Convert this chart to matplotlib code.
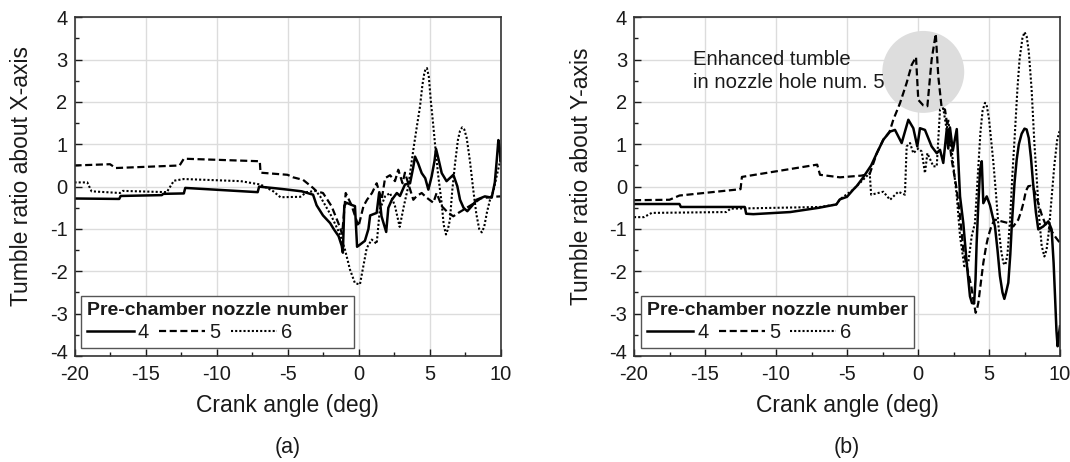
import matplotlib
matplotlib.use('Agg')
import matplotlib.pyplot as plt
from matplotlib.ticker import MultipleLocator
from matplotlib.transforms import ScaledTranslation

plt.rcParams['font.family'] = ['Liberation Sans', 'DejaVu Sans']
plt.rcParams['axes.unicode_minus'] = False
plt.rcParams['text.color'] = '#1a1a1a'
plt.rcParams['axes.labelcolor'] = '#1a1a1a'
plt.rcParams['xtick.color'] = '#1a1a1a'
plt.rcParams['ytick.color'] = '#1a1a1a'

nozzles = ['4', '5', '6']

# (a) tumble ratio about X-axis
ax4 = [-20, -16.85, -16.75, -13.85, -13.75, -12.3, -12.2, -7.1, -7.0, -5.8, -5.0, -4.0, -3.2, -2.95,
       -2.5, -2.0, -1.75, -1.4, -1.18, -1.1, -1.0, -0.85, -0.5, -0.25, -0.1, 0.1, 0.45, 0.7, 0.82,
       1.28, 1.45, 1.62, 1.95, 2.1, 2.35, 2.7, 2.92, 3.27, 3.63, 3.85, 3.98, 4.2, 4.45, 4.7, 4.92, 5.15,
       5.35, 5.46, 5.6, 5.86, 6.2, 6.68, 6.96, 7.15, 7.4, 7.66, 8.0, 8.32, 8.9, 9.38, 9.6, 9.73, 9.85,
       9.95, 10.0]
ay4 = [-0.28, -0.29, -0.22, -0.20, -0.17, -0.16, -0.03, -0.13, 0.0, -0.04, -0.07, -0.11, -0.19, -0.44,
       -0.68, -0.86, -1.0, -1.17, -1.4, -1.56, -0.45, -0.38, -0.43, -0.46, -1.42, -1.37, -1.28, -1.0, -0.68,
       -0.62, -0.15, -0.70, -1.07, -0.50, -0.31, -0.15, -0.22, 0.05, 0.08, 0.45, 0.71, 0.55, 0.32, 0.2, -0.07,
       0.24, 0.6, 0.89, 0.7, 0.32, 0.13, 0.28, 0.01, -0.31, -0.5, -0.58, -0.45, -0.31, -0.23, -0.26, 0.1,
       0.6, 1.1, 0.9, 0.6]

ax5 = [-20, -17.5, -17.1, -12.6, -12.3, -6.95, -6.9, -5.0, -4.6, -3.9, -3.2, -2.95, -2.5, -1.9, -1.42,
       -1.15, -0.9, -0.5, 0.0, 0.35, 0.6, 0.95, 1.28, 1.63, 1.87, 2.22, 2.57, 2.8, 3.1, 3.27, 3.5, 3.86,
       4.1, 4.45, 4.8, 5.27, 5.5, 5.86, 6.32, 6.68, 7.03, 7.62, 8.1, 8.6, 9.4, 10.0]
ay5 = [0.50, 0.53, 0.44, 0.50, 0.66, 0.60, 0.33, 0.28, 0.22, 0.16, -0.03, -0.11, -0.15, -0.46, -0.86,
       -1.12, -0.15, -0.43, -0.94, -0.46, -0.31, -0.15, 0.08, -0.31, 0.20, 0.27, 0.13, 0.40, 0.08, 0.33, 0.08,
       -0.31, -0.22, -0.15, -0.26, -0.38, -0.15, -0.46, -0.62, -0.70, -0.62, -0.50, -0.40, -0.28, -0.24, -0.23]

ax6 = [-20, -19.1, -18.8, -16.8, -16.6, -13.5, -13.0, -12.3, -8.3, -6.9, -6.0, -5.5, -4.1, -3.65, -3.0,
       -2.7, -1.9, -1.3, -0.95, -0.6, -0.25, 0.1, 0.34, 0.58, 0.93, 1.28, 1.5, 1.87, 2.22, 2.57, 2.9, 3.2,
       3.5, 3.86, 4.1, 4.33, 4.5, 4.62, 4.72, 4.82, 4.95, 5.1, 5.25, 5.39, 5.6, 5.86, 6.0, 6.16, 6.3, 6.44,
       6.6, 6.8, 7.0, 7.15, 7.3, 7.45, 7.62, 7.85, 8.08, 8.3, 8.5, 8.68, 8.85, 9.05, 9.26, 9.5, 9.73, 10.0]
ay6 = [0.10, 0.10, -0.11, -0.15, -0.10, -0.13, 0.14, 0.18, 0.13, 0.05, -0.11, -0.25, -0.24, -0.13, -0.10,
       -0.23, -0.70, -1.13, -1.49, -1.96, -2.28, -2.31, -1.88, -1.45, -1.25, -1.35, -0.54, -0.23, -0.15, -0.46,
       -0.95, -0.45, 0.0, 0.87, 1.4, 1.89, 2.4, 2.65, 2.78, 2.8, 2.6, 2.0, 1.5, 1.0, 0.3, -0.4, -0.9, -1.13,
       -1.0, -0.78, -0.1, 0.55, 1.1, 1.32, 1.4, 1.35, 1.15, 0.6, -0.07, -0.65, -1.0, -1.08, -0.95, -0.6, -0.31,
       -0.1, 0.25, 0.64]

# (b) tumble ratio about Y-axis
bx4 = [-20, -16.8, -16.7, -12.2, -12.1, -11.6, -9.0, -7.0, -5.75, -5.5, -5.0, -4.56, -4.3, -3.9, -3.3,
       -2.9, -2.44, -1.97, -1.62, -1.15, -0.68, -0.33, -0.05, 0.14, 0.49, 0.96, 1.32, 1.55, 1.78, 2.02,
       2.13, 2.25, 2.45, 2.73, 2.96, 3.19, 3.43, 3.66, 3.8, 3.95, 4.05, 4.13, 4.25, 4.37, 4.49, 4.6, 4.84,
       5.07, 5.42, 5.6, 5.77, 5.95, 6.08, 6.2, 6.36, 6.5, 6.6, 6.8, 6.95, 7.1, 7.3, 7.5, 7.65, 7.8, 7.95,
       8.1, 8.3, 8.47, 8.82, 9.18, 9.41, 9.55, 9.65, 9.75, 9.83, 9.92, 10.0]
by4 = [-0.41, -0.41, -0.48, -0.48, -0.64, -0.65, -0.60, -0.50, -0.42, -0.30, -0.24, -0.07, 0.02, 0.20, 0.50,
       0.79, 1.11, 1.30, 1.34, 1.03, 1.58, 1.38, 0.95, 1.38, 1.34, 0.95, 0.79, 0.87, 0.56, 1.34,
       0.90, 1.40, 0.85, 1.36, -0.23, -0.86, -1.80, -2.59, -2.75, -2.76, -2.2, -1.33, -0.4, 0.40, 0.60, -0.39,
       -0.23, -0.44, -0.94, -1.5, -2.11, -2.5, -2.65, -2.5, -2.27, -1.6, -0.94, 0.1, 0.64, 1.0, 1.25, 1.37,
       1.35, 1.15, 0.7, 0.1, -0.6, -1.01, -0.94, -0.82, -1.01, -1.8, -2.59, -3.4, -3.77, -3.5, -3.3]

bx5 = [-20, -17.5, -16.8, -12.5, -12.4, -7.1, -6.9, -5.5, -4.0, -3.4, -2.9, -2.44, -2.0, -1.74, -1.27,
       -0.8, -0.44, -0.14, 0.02, 0.37, 0.66, 0.96, 1.25, 1.43, 1.67, 1.9, 2.13, 2.37, 2.73, 2.96, 3.19,
       3.54, 3.75, 3.9, 4.06, 4.15, 4.25, 4.45, 4.6, 4.8, 4.95, 5.2, 5.42, 5.89, 6.36, 6.71, 7.06, 7.25,
       7.42, 7.6, 7.77, 7.95, 8.12, 8.3, 8.47, 8.7, 8.94, 9.2, 9.41, 9.7, 10.0]
by5 = [-0.32, -0.31, -0.21, -0.06, 0.23, 0.52, 0.28, 0.22, 0.26, 0.30, 0.79, 1.11, 1.30, 1.58, 1.97,
       2.45, 2.88, 3.06, 2.05, 1.92, 1.90, 3.0, 3.61, 2.60, 1.85, 1.82, 1.3, 0.64, -0.07, -0.70, -1.49,
       -2.04, -2.35, -2.67, -2.98, -2.9, -2.74, -2.2, -1.80, -1.4, -1.17, -0.9, -0.78, -0.82, -0.86, -0.94,
       -0.78, -0.6, -0.39, -0.1, 0.01, 0.02, -0.03, -0.2, -0.39, -0.65, -0.86, -0.98, -1.05, -1.2, -1.33]

bx6 = [-20, -19.3, -18.75, -13.5, -13.2, -6.9, -5.75, -5.5, -4.56, -3.4, -3.3, -2.44, -1.97, -1.39, -0.92,
       -0.80, -0.56, -0.33, 0.02, 0.26, 0.49, 0.66, 1.08, 1.32, 1.55, 1.78, 2.02, 2.13, 2.37, 2.73, 2.96,
       3.26, 3.54, 3.78, 4.01, 4.25, 4.4, 4.55, 4.72, 4.85, 5.0, 5.15, 5.3, 5.5, 5.66, 5.85, 6.01, 6.15,
       6.3, 6.48, 6.65, 6.83, 7.0, 7.15, 7.35, 7.5, 7.65, 7.8, 8.0, 8.2, 8.36, 8.55, 8.71, 8.9, 9.05, 9.2,
       9.4, 9.6, 9.8, 10.0]
by6 = [-0.72, -0.72, -0.62, -0.60, -0.52, -0.48, -0.42, -0.30, -0.07, 0.32, -0.19, -0.12, -0.31, -0.12, -0.19,
       0.95, 1.03, 0.79, 0.90, 0.83, 0.32, 0.79, 0.48, 0.48, 1.82, 1.85, 1.34, 1.58, 0.87, -0.23, -1.17,
       -1.88, -1.80, -1.17, -0.86, 0.48, 1.3, 1.8, 1.98, 1.9, 1.6, 1.1, 0.6, -0.2, -0.9, -1.5, -1.8, -1.85,
       -1.6, -0.8, 0.3, 1.3, 2.3, 3.0, 3.5, 3.65, 3.55, 3.2, 2.3, 1.0, 0.2, -0.8, -1.4, -1.65, -1.5, -1.1,
       -0.3, 0.5, 1.1, 1.35]

styles = [dict(ls='-', lw=1.8), dict(ls=(0, (3.2, 1.6)), lw=1.6), dict(ls=(0, (1, 1)), lw=1.5)]

fig = plt.figure(figsize=(10.7, 4.62), dpi=100)
W, H = 1070, 462
ax_a = fig.add_axes([74.5 / W, 1 - 356 / H, 426 / W, 338.7 / H])
ax_b = fig.add_axes([634 / W, 1 - 356 / H, 426 / W, 338.7 / H])


def style_axes(ax, ylabel):
    ax.set_xlim(-20, 10)
    ax.set_ylim(-4, 4)
    ax.set_xticks(range(-20, 11, 5))
    ax.set_yticks(range(-4, 5))
    ax.xaxis.set_minor_locator(MultipleLocator(2.5))
    ax.yaxis.set_minor_locator(MultipleLocator(0.5))
    ax.set_axisbelow(True)
    ax.grid(True, which='major', color='#dcdcdc', lw=1.0)
    ax.tick_params(which='both', direction='in', top=False, right=False, labelsize=14.5, width=1.0)
    ax.tick_params(axis='y', pad=5)
    ax.tick_params(axis='x', pad=6.5)
    ax.tick_params(which='major', length=5)
    ax.tick_params(which='minor', length=3)
    for sp in ax.spines.values():
        sp.set_linewidth(1.2)
        sp.set_color('#333333')
    ax.set_xlabel('Crank angle (deg)', fontsize=16.5, va='center')
    ax.xaxis.set_label_coords(0.5, -0.145)
    ax.set_ylabel(ylabel, fontsize=16.5, va='center')
    ax.yaxis.set_label_coords(-0.124, 0.53)
    # lift the bottom y label a little so it clears the first x label
    low = ax.yaxis.get_major_ticks()[0].label1
    low.set_transform(low.get_transform() + ScaledTranslation(0, 3 / 72, fig.dpi_scale_trans))


def add_legend(ax, lines):
    leg = ax.legend(lines, nozzles, title='Pre-chamber nozzle number', ncol=3,
                    loc='lower left', bbox_to_anchor=(0.016, 0.024), borderaxespad=0,
                    frameon=True, fancybox=False, framealpha=1, edgecolor='#555555',
                    fontsize=14.5, title_fontproperties={'weight': 'bold', 'size': 14},
                    handlelength=2.3, handletextpad=0.2, columnspacing=0.5,
                    borderpad=0.3, labelspacing=0.2, alignment='left')
    leg.get_frame().set_linewidth(1.0)


lines_a = []
for xs, ys, st in zip([ax4, ax5, ax6], [ay4, ay5, ay6], styles):
    ln, = ax_a.plot(xs, ys, color='black', **st)
    lines_a.append(ln)
style_axes(ax_a, 'Tumble ratio about X-axis')
add_legend(ax_a, lines_a)

# highlight of the nozzle-5 tumble peaks
ax_b.scatter([0.37], [2.71], s=3480, color='#dddddd', edgecolors='none', zorder=1)
lines_b = []
for xs, ys, st in zip([bx4, bx5, bx6], [by4, by5, by6], styles):
    ln, = ax_b.plot(xs, ys, color='black', zorder=2, **st)
    lines_b.append(ln)
style_axes(ax_b, 'Tumble ratio about Y-axis')
add_legend(ax_b, lines_b)
ax_b.text(-15.85, 2.74, 'Enhanced tumble\nin nozzle hole num. 5', fontsize=14.6,
          ha='left', va='center', linespacing=1.25)

fig.text((74.5 + 213) / W, 1 - 448 / H, '(a)', fontsize=15.5, ha='center', va='center')
fig.text((634 + 213) / W, 1 - 448 / H, '(b)', fontsize=15.5, ha='center', va='center')

fig.savefig('out.png', dpi=100, facecolor='white')
